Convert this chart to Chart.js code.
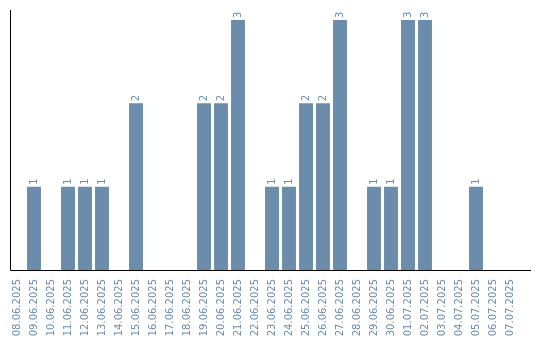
<!DOCTYPE html>
<html>
<head>
<meta charset="utf-8">
<script src="https://cdn.jsdelivr.net/npm/chart.js@4/dist/chart.umd.min.js"></script>
<style>
  html, body { margin: 0; padding: 0; background: #fff; }
  #wrap { width: 540px; height: 340px; }
</style>
</head>
<body>
<div id="wrap"><canvas id="chart"></canvas></div>
<script>
const dates = [
  '08.06.2025', '09.06.2025', '10.06.2025', '11.06.2025', '12.06.2025',
  '13.06.2025', '14.06.2025', '15.06.2025', '16.06.2025', '17.06.2025',
  '18.06.2025', '19.06.2025', '20.06.2025', '21.06.2025', '22.06.2025',
  '23.06.2025', '24.06.2025', '25.06.2025', '26.06.2025', '27.06.2025',
  '28.06.2025', '29.06.2025', '30.06.2025', '01.07.2025', '02.07.2025',
  '03.07.2025', '04.07.2025', '05.07.2025', '06.07.2025', '07.07.2025'
]
const counts = [
  0, 1, 0, 1, 1,
  1, 0, 2, 0, 0,
  0, 2, 2, 3, 0,
  1, 1, 2, 2, 3,
  0, 1, 1, 3, 3,
  0, 0, 1, 0, 0
]

const barColor = '#6b8cab'
const font = { family: 'DejaVu Sans', size: 10 }

// axis lines, drawn by hand so they can run past the bar slots
const axisLines = {
  id: 'axisLines',
  afterDatasetsDraw(chart) {
    const { ctx, chartArea } = chart
    ctx.save()
    ctx.strokeStyle = '#000'
    ctx.lineWidth = 1
    ctx.beginPath()
    ctx.moveTo(10.5, chartArea.top)
    ctx.lineTo(10.5, chartArea.bottom + 0.5)
    ctx.lineTo(531, chartArea.bottom + 0.5)
    ctx.stroke()
    ctx.restore()
  }
}

// rotated value labels on top of the bars
const valueLabels = {
  id: 'valueLabels',
  afterDatasetsDraw(chart) {
    const { ctx } = chart
    const meta = chart.getDatasetMeta(0)
    ctx.save()
    ctx.fillStyle = barColor
    ctx.font = `${font.size}px ${font.family}`
    ctx.textAlign = 'left'
    ctx.textBaseline = 'middle'
    meta.data.forEach((bar, i) => {
      const v = counts[i]
      if (!v) return
      ctx.save()
      ctx.translate(bar.x, bar.y - 2)
      ctx.rotate(-Math.PI / 2)
      ctx.fillText(String(v), 0, 0)
      ctx.restore()
    })
    ctx.restore()
  }
}

new Chart(document.getElementById('chart').getContext('2d'), {
  type: 'bar',
  data: {
    labels: dates,
    datasets: [{
      data: counts,
      backgroundColor: barColor,
      borderWidth: 0,
      categoryPercentage: 1,
      barPercentage: 0.82
    }]
  },
  options: {
    responsive: true,
    maintainAspectRatio: false,
    animation: false,
    layout: { padding: { left: 8.5, right: 21.5, top: 10, bottom: 0 } },
    plugins: {
      legend: { display: false },
      tooltip: { enabled: false }
    },
    scales: {
      x: {
        offset: true,
        grid: { display: false },
        border: { display: false },
        ticks: {
          color: barColor,
          font: font,
          autoSkip: false,
          minRotation: 90,
          maxRotation: 90,
          padding: 1
        },
        afterFit(scale) { scale.height = 70 }
      },
      y: {
        display: false,
        min: 0,
        max: 3.12
      }
    }
  },
  plugins: [axisLines, valueLabels]
})
</script>
</body>
</html>
